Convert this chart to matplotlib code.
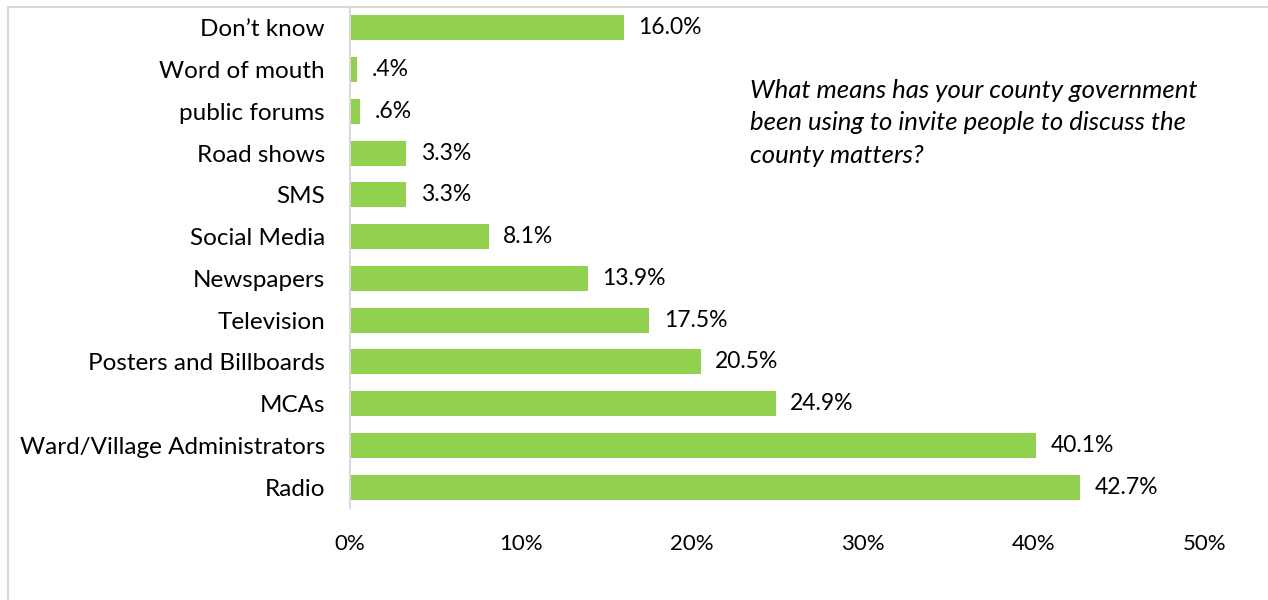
import matplotlib.pyplot as plt
from matplotlib.lines import Line2D
from matplotlib.ticker import FuncFormatter

# survey responses, bottom to top
channels = ['Radio', 'Ward/Village Administrators', 'MCAs', 'Posters and Billboards',
            'Television', 'Newspapers', 'Social Media', 'SMS', 'Road shows',
            'public forums', 'Word of mouth', 'Don\u2019t know']
shares = [42.7, 40.1, 24.9, 20.5, 17.5, 13.9, 8.1, 3.3, 3.3, 0.6, 0.4, 16.0]
value_labels = ['42.7%', '40.1%', '24.9%', '20.5%', '17.5%', '13.9%', '8.1%',
                '3.3%', '3.3%', '.6%', '.4%', '16.0%']
question = ('What means has your county government\n'
            'been using to invite people to discuss the\n'
            'county matters?')

plt.rcParams['font.family'] = ['Lato', 'DejaVu Sans']

fig = plt.figure(figsize=(12.68, 6), dpi=100)
W, H = 1268, 600
ax = fig.add_axes([350 / W, 1 - 508 / H, 855 / W, 501 / H])

ypos = list(range(len(channels)))
ax.barh(ypos, shares, height=0.6, color='#92D050')

for y, v, lab in zip(ypos, shares, value_labels):
    ax.annotate(lab, (v, y), xytext=(10.5, 0), textcoords='offset points',
                va='center', ha='left', fontsize=16.5, color='black')

ax.set_xlim(0, 50)
ax.set_ylim(-0.5, len(channels) - 0.5)
ax.set_yticks(ypos)
ax.set_yticklabels(channels, fontsize=17.5)
ax.set_xticks(range(0, 51, 10))
ax.xaxis.set_major_formatter(FuncFormatter(lambda x, _: f'{x:.0f}%'))
ax.tick_params(axis='x', length=0, pad=19, labelsize=16)
ax.tick_params(axis='y', length=0, pad=18)

for side in ['top', 'right', 'bottom']:
    ax.spines[side].set_visible(False)
ax.spines['left'].set_color('#d9d9d9')
ax.spines['left'].set_linewidth(1.5)

fig.text(750 / W, 1 - 79 / H, question, fontsize=18.5, style='italic',
         va='top', ha='left', linespacing=1.5)

# chart area frame
fig.add_artist(Line2D([8 / W, 1], [1 - 7 / H, 1 - 7 / H], color='#d9d9d9', lw=1.5))
fig.add_artist(Line2D([8 / W, 8 / W], [0, 1 - 7 / H], color='#d9d9d9', lw=1.5))

fig.savefig('out.png', dpi=100)
